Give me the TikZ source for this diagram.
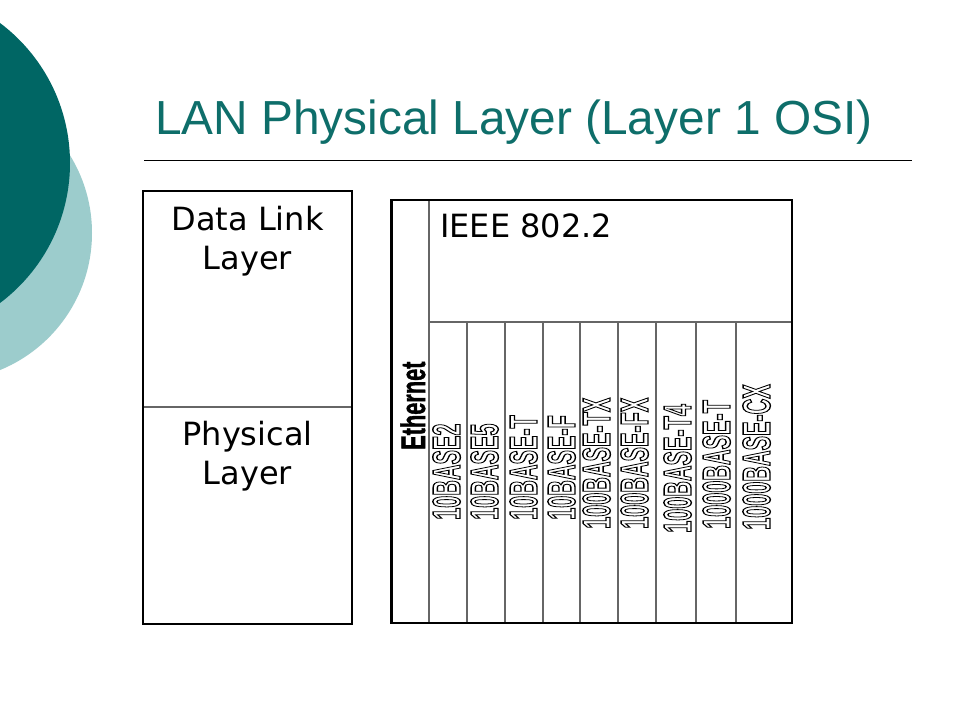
\documentclass[tikz,border=0pt]{standalone}
\usepackage{graphicx}
\usepackage{fontspec}
\setmainfont{DejaVu Sans}
\newfontfamily\titlefont{Liberation Sans}
\newfontfamily\labfont{Liberation Sans}
\newfontfamily\heavyfont[FakeBold=1.5]{Liberation Sans Bold}
\definecolor{darkteal}{RGB}{0,102,100}
\definecolor{lightteal}{RGB}{156,204,204}
\definecolor{titleteal}{RGB}{14,110,106}
\newcommand\outlinetext[1]{\special{pdf:literal direct 1 Tr 1.4 w}#1\special{pdf:literal direct 0 Tr}}
\begin{document}
\begin{tikzpicture}[x=1pt,y=-1pt,
  outerline/.style={draw=black, line width=2.4pt},
  innerline/.style={draw=black!60, line width=1.4pt},
  boxtext/.style={inner sep=0pt, align=center, text=black, font=\fontsize{32}{39}\selectfont},
  vlab/.style={rotate=90, anchor=base west, inner sep=0pt, text=black, font=\labfont\bfseries\fontsize{39}{39}\selectfont},
  eth/.style={rotate=90, anchor=base west, inner sep=0pt, text=black, font=\heavyfont\fontsize{34}{34}\selectfont}]
\useasboundingbox (0,0) rectangle (960,720);
\fill[white] (0,0) rectangle (960,720);
% background circles
\fill[lightteal] (-56,233) circle[radius=148];
\fill[darkteal] (-105,163) circle[radius=175];
% title
\node[anchor=base west, inner sep=0pt, text=titleteal, font=\titlefont\fontsize{47.8}{48}\selectfont] (title) at (155,134) {LAN Physical Layer (Layer 1 OSI)};
\draw[line width=1pt] (144,160) -- (912,160);
% left box
\draw[innerline] (143,407) -- (352,407);
\draw[outerline] (143,191) rectangle (352,624);
\node[boxtext, anchor=base] (dll) at (247.5,269) {Data Link\\Layer};
\node[boxtext, anchor=base] (phy) at (247.5,484) {Physical\\Layer};
% right table
\foreach \cx in {467,505,543,580,618,656,696,736}{
  \draw[innerline] (\cx,322) -- (\cx,623);
}
\draw[innerline] (429,322) -- (792,322);
\draw[innerline] (429,200) -- (429,623);
\draw[outerline] (391.5,200) rectangle (792,623);
\node[anchor=base west, inner sep=0pt, font=\fontsize{32}{39}\selectfont] (ieee) at (440,237) {IEEE 802.2};
% vertical labels
\node[eth] (ethernet) at (425,450) {\scalebox{0.64}[1]{Ethernet}};
\node[vlab] (l1) at (460,520) {\scalebox{0.555}[1]{\outlinetext{10BASE2}}};
\node[vlab] (l2) at (498,520) {\scalebox{0.555}[1]{\outlinetext{10BASE5}}};
\node[vlab] (l3) at (537,520) {\scalebox{0.555}[1]{\outlinetext{10BASE-T}}};
\node[vlab] (l4) at (575,520) {\scalebox{0.555}[1]{\outlinetext{10BASE-F}}};
\node[vlab] (l5) at (610,529) {\scalebox{0.555}[1]{\outlinetext{100BASE-TX}}};
\node[vlab] (l6) at (648,529) {\scalebox{0.555}[1]{\outlinetext{100BASE-FX}}};
\node[vlab] (l7) at (691,533) {\scalebox{0.555}[1]{\outlinetext{100BASE-T4}}};
\node[vlab] (l8) at (730,529) {\scalebox{0.555}[1]{\outlinetext{1000BASE-T}}};
\node[vlab] (l9) at (770,530) {\scalebox{0.555}[1]{\outlinetext{1000BASE-CX}}};
\end{tikzpicture}
\end{document}
